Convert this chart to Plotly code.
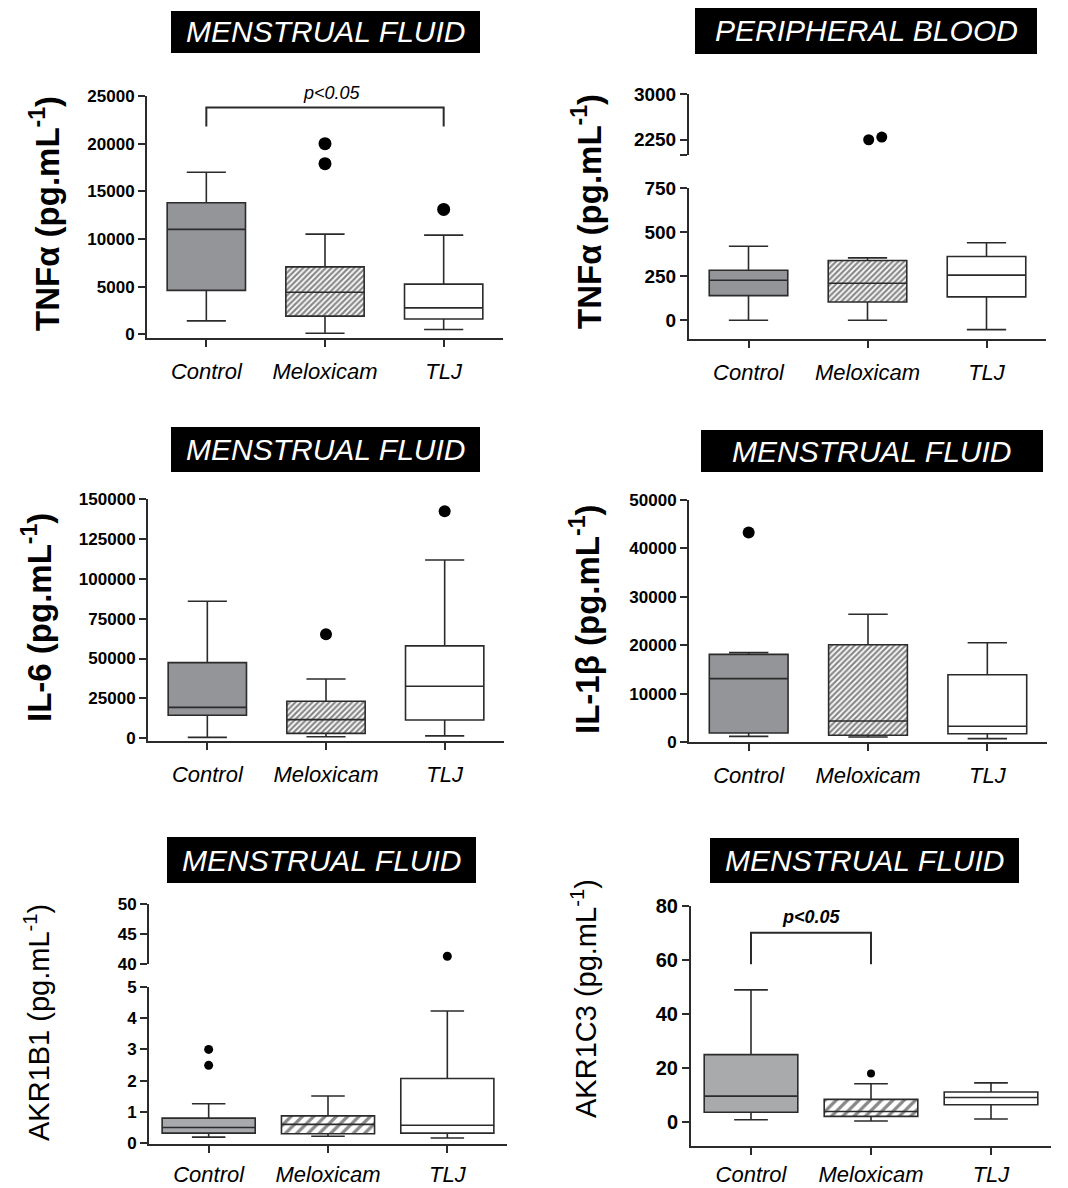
import plotly.graph_objects as go

W, H = 1068, 1188
groups = ["Control", "Meloxicam", "TLJ"]

# ---------------- data ----------------
# Panel 1: TNFa, menstrual fluid
tnf_mf_low = [1400, 100, 500]
tnf_mf_q1 = [4600, 1900, 1600]
tnf_mf_med = [11000, 4400, 2760]
tnf_mf_q3 = [13800, 7070, 5250]
tnf_mf_high = [17000, 10500, 10400]
tnf_mf_out_grp = [1, 1, 2]
tnf_mf_out_val = [20000, 17900, 13100]

# Panel 2: TNFa, peripheral blood
tnf_pb_low = [0, 0, -53]
tnf_pb_q1 = [140, 104, 133]
tnf_pb_med = [227, 210, 256]
tnf_pb_q3 = [284, 339, 362]
tnf_pb_high = [420, 354, 440]
tnf_pb_out_grp = [1, 1]
tnf_pb_out_val = [2250, 2294]
tnf_pb_out_dodge = [0.01, 0.12]

# Panel 3: IL-6, menstrual fluid
il6_low = [600, 1000, 1500]
il6_q1 = [14400, 3100, 11500]
il6_med = [19400, 11700, 32600]
il6_q3 = [47400, 23200, 57900]
il6_high = [85900, 37200, 111800]
il6_out_grp = [1, 2]
il6_out_val = [65200, 142300]

# Panel 4: IL-1b, menstrual fluid
il1b_low = [1170, 1030, 690]
il1b_q1 = [1860, 1380, 1720]
il1b_med = [13100, 4340, 3240]
il1b_q3 = [18100, 20100, 13900]
il1b_high = [18500, 26400, 20500]
il1b_out_grp = [0]
il1b_out_val = [43300]

# Panel 5: AKR1B1, menstrual fluid
akr1b1_low = [0.19, 0.22, 0.16]
akr1b1_q1 = [0.32, 0.30, 0.32]
akr1b1_med = [0.50, 0.60, 0.57]
akr1b1_q3 = [0.80, 0.87, 2.07]
akr1b1_high = [1.26, 1.51, 4.23]
akr1b1_out_grp = [0, 0, 2]
akr1b1_out_val = [3.0, 2.49, 41.3]

# Panel 6: AKR1C3, menstrual fluid
akr1c3_low = [0.74, 0.25, 1.0]
akr1c3_q1 = [3.5, 2.0, 6.3]
akr1c3_med = [9.5, 3.8, 9.0]
akr1c3_q3 = [24.9, 8.3, 11.0]
akr1c3_high = [48.9, 14.1, 14.4]
akr1c3_out_grp = [1]
akr1c3_out_val = [17.9]

# significance brackets: (group a, group b, leg bottom, bracket top, label y)
sig_tnf = [0, 2, 21800, 23800, 25300]
sig_akr1c3 = [0, 1, 58.4, 70.1, 75.8]

# ---------------- styling ----------------
FONT = "Liberation Sans"
INK = "#2b2b2b"

fig = go.Figure()


def xdom(a, b):
    return [a / W, b / W]


def ydom(top, bottom):
    return [1 - bottom / H, 1 - top / H]


panels = [
    dict(x="x", y="y", xd=(147, 503), yd=(96, 338), yr=[-400, 25000],
         yt=[0, 5000, 10000, 15000, 20000, 25000], tfs=17,
         data=(tnf_mf_low, tnf_mf_q1, tnf_mf_med, tnf_mf_q3, tnf_mf_high),
         outg=tnf_mf_out_grp, outv=tnf_mf_out_val, outd=None, ms=13,
         bw=0.66, ww=0.5, hs=4, sol=0.55, gray="#939598", so=6),
    dict(x="x2", y="y2", xd=(689, 1046), yd=(188, 339), yr=[-106, 750],
         yt=[0, 250, 500, 750], tfs=19,
         up=dict(y="y7", yd=(94, 155), yr=[2000, 3000], yt=[2000, 2250, 3000],
                 ytt=[" ", "2250", "3000"]),
         data=(tnf_pb_low, tnf_pb_q1, tnf_pb_med, tnf_pb_q3, tnf_pb_high),
         outg=tnf_pb_out_grp, outv=tnf_pb_out_val, outd=tnf_pb_out_dodge, ms=11,
         bw=0.66, ww=0.5, hs=4, sol=0.55, gray="#939598", so=6),
    dict(x="x3", y="y3", xd=(148, 504), yd=(499, 741), yr=[-1700, 150000],
         yt=[0, 25000, 50000, 75000, 100000, 125000, 150000], tfs=17,
         data=(il6_low, il6_q1, il6_med, il6_q3, il6_high),
         outg=il6_out_grp, outv=il6_out_val, outd=None, ms=12,
         bw=0.66, ww=0.5, hs=4, sol=0.55, gray="#939598", so=6),
    dict(x="x4", y="y4", xd=(689, 1047), yd=(500, 742), yr=[0, 50000],
         yt=[0, 10000, 20000, 30000, 40000, 50000], tfs=17,
         data=(il1b_low, il1b_q1, il1b_med, il1b_q3, il1b_high),
         outg=il1b_out_grp, outv=il1b_out_val, outd=None, ms=12,
         bw=0.66, ww=0.5, hs=4, sol=0.55, gray="#939598", so=6),
    dict(x="x5", y="y5", xd=(149, 507), yd=(987, 1144), yr=[-0.03, 5],
         yt=[0, 1, 2, 3, 4, 5], tfs=17,
         up=dict(y="y8", yd=(904, 964), yr=[40, 50], yt=[40, 45, 50],
                 ytt=["40", "45", "50"]),
         data=(akr1b1_low, akr1b1_q1, akr1b1_med, akr1b1_q3, akr1b1_high),
         outg=akr1b1_out_grp, outv=akr1b1_out_val, outd=None, ms=9,
         bw=0.78, ww=0.36, hs=8, sol=0.4, gray="#a7a9ac", so=3),
    dict(x="x6", y="y6", xd=(691, 1051), yd=(906, 1146), yr=[-9, 80],
         yt=[0, 20, 40, 60, 80], tfs=20,
         data=(akr1c3_low, akr1c3_q1, akr1c3_med, akr1c3_q3, akr1c3_high),
         outg=akr1c3_out_grp, outv=akr1c3_out_val, outd=None, ms=8,
         bw=0.78, ww=0.36, hs=8, sol=0.4, gray="#a9aaac", so=1),
]

layout_axes = {}


def axname(a):
    return "xaxis" + a[1:] if a.startswith("x") else "yaxis" + a[1:]


def paper_y(p, v):
    top, bottom = p["yd"]
    lo, hi = p["yr"]
    px = bottom - (v - lo) / (hi - lo) * (bottom - top)
    return 1 - px / H


def paper_x(p, v):
    left, right = p["xd"]
    px = left + (v + 0.5) / 3 * (right - left)
    return px / W


for p in panels:
    low, q1, med, q3, high = p["data"]
    fills = [p["gray"], "rgba(0,0,0,0)", "white"]
    # hatch underlay for Meloxicam
    fig.add_trace(go.Bar(
        x=[1], y=[q3[1] - q1[1]], base=[q1[1]], width=p["bw"],
        marker=dict(color="white", line=dict(width=0),
                    pattern=dict(shape="/", fgcolor="#111111", bgcolor="white",
                                 size=p["hs"], solidity=p["sol"])),
        xaxis=p["x"], yaxis=p["y"], showlegend=False, hoverinfo="skip"))
    for i in range(3):
        fig.add_trace(go.Box(
            x=[i], q1=[q1[i]], median=[med[i]], q3=[q3[i]],
            lowerfence=[low[i]], upperfence=[high[i]],
            width=p["bw"], whiskerwidth=p["ww"], fillcolor=fills[i],
            line=dict(color=INK, width=1.6), boxpoints=False,
            xaxis=p["x"], yaxis=p["y"], showlegend=False, hoverinfo="skip"))
    # outliers
    up = p.get("up")
    ox_lo, oy_lo, ox_up, oy_up = [], [], [], []
    for k, (g, v) in enumerate(zip(p["outg"], p["outv"])):
        dx = p["outd"][k] if p["outd"] else 0
        if up and v >= up["yr"][0]:
            ox_up.append(g + dx); oy_up.append(v)
        else:
            ox_lo.append(g + dx); oy_lo.append(v)
    if ox_lo:
        fig.add_trace(go.Scatter(x=ox_lo, y=oy_lo, mode="markers",
                                 marker=dict(color="black", size=p["ms"]),
                                 xaxis=p["x"], yaxis=p["y"], showlegend=False,
                                 cliponaxis=False, hoverinfo="skip"))
    if ox_up:
        fig.add_trace(go.Scatter(x=ox_up, y=oy_up, mode="markers",
                                 marker=dict(color="black", size=p["ms"]),
                                 xaxis=p["x"], yaxis=up["y"], showlegend=False,
                                 cliponaxis=False, hoverinfo="skip"))

    layout_axes[axname(p["x"])] = dict(
        domain=xdom(*p["xd"]), range=[-0.5, 2.5], anchor=p["y"],
        tickvals=[0, 1, 2], ticktext=groups, ticks="outside", ticklen=7,
        tickwidth=2, tickcolor=INK, showline=True, linewidth=2, linecolor=INK,
        showgrid=False, zeroline=False, ticklabelstandoff=p["so"],
        automargin=False,
        tickfont=dict(family=FONT, size=22, color="black", style="italic"))
    layout_axes[axname(p["y"])] = dict(
        domain=ydom(*p["yd"]), range=p["yr"], anchor=p["x"],
        tickvals=p["yt"], tickformat="d", ticks="outside", ticklen=7,
        tickwidth=2, tickcolor=INK, showline=True, linewidth=2, linecolor=INK,
        showgrid=False, zeroline=False, automargin=False,
        tickfont=dict(family=FONT, size=p["tfs"], color="black", weight="bold"))
    if up:
        layout_axes[axname(up["y"])] = dict(
            domain=ydom(*up["yd"]), range=up["yr"], anchor=p["x"],
            tickvals=up["yt"], ticktext=up["ytt"], ticks="outside", ticklen=7,
            tickwidth=2, tickcolor=INK, showline=True, linewidth=2,
            linecolor=INK, showgrid=False, zeroline=False, automargin=False,
            tickfont=dict(family=FONT, size=p["tfs"], color="black",
                          weight="bold"))

# significance brackets
for sig, pi, bold, dx in [(sig_tnf, 0, False, 0.06), (sig_akr1c3, 5, True, 0.0)]:
    p = panels[pi]
    a, b, lo, hi, ty = sig
    fig.add_trace(go.Scatter(x=[a, a, b, b], y=[lo, hi, hi, lo], mode="lines",
                             line=dict(color=INK, width=2), xaxis=p["x"],
                             yaxis=p["y"], showlegend=False, hoverinfo="skip",
                             cliponaxis=False))
    fig.add_annotation(x=paper_x(p, (a + b) / 2 + dx), y=paper_y(p, ty),
                       xref="paper", yref="paper", text="p<0.05",
                       showarrow=False, xanchor="center", yanchor="middle",
                       font=dict(family=FONT, size=18, color="black",
                                 style="italic",
                                 weight="bold" if bold else "normal"))

# title boxes
titles = [
    ("MENSTRUAL FLUID", 171, 480, 11, 53),
    ("PERIPHERAL BLOOD", 695, 1037, 8, 54),
    ("MENSTRUAL FLUID", 171, 480, 427, 472),
    ("MENSTRUAL FLUID", 701, 1043, 430, 472),
    ("MENSTRUAL FLUID", 167, 476, 837, 883),
    ("MENSTRUAL FLUID", 710, 1019, 838, 883),
]
shapes = []
for t, x0, x1, y0, y1 in titles:
    shapes.append(dict(type="rect", xref="paper", yref="paper",
                       x0=x0 / W, x1=x1 / W, y0=1 - y1 / H, y1=1 - y0 / H,
                       fillcolor="black", line=dict(width=0)))
    fig.add_annotation(x=(x0 + x1) / 2 / W, y=1 - (y0 + y1) / 2 / H,
                       xref="paper", yref="paper", text=t, showarrow=False,
                       xanchor="center", yanchor="middle",
                       font=dict(family=FONT, size=30, color="white",
                                 style="italic"))

# y-axis titles
ytitles = [
    ("TNFα (pg.mL<sup>-1</sup>)", 45, 214, "bold"),
    ("TNFα (pg.mL<sup>-1</sup>)", 587, 212, "bold"),
    ("IL-6 (pg.mL<sup>-1</sup>)", 37, 618, "bold"),
    ("IL-1β (pg.mL<sup>-1</sup>)", 585, 619, "bold"),
    ("AKR1B1 (pg.mL<sup>-1</sup>)", 37, 1023, "normal"),
    ("AKR1C3 (pg.mL<sup>-1</sup>)", 584, 999, "normal"),
]
for t, x, y, wt in ytitles:
    fig.add_annotation(x=x / W, y=1 - y / H, xref="paper", yref="paper",
                       text=t, showarrow=False, textangle=-90,
                       xanchor="center", yanchor="middle",
                       font=dict(family=FONT, size=33 if wt == "bold" else 29,
                                 color="black", weight=wt))

fig.update_layout(
    width=W, height=H, autosize=False,
    margin=dict(l=0, r=0, t=0, b=0, pad=0, autoexpand=False),
    paper_bgcolor="white", plot_bgcolor="white",
    font=dict(family=FONT, color="black"),
    showlegend=False, barmode="overlay", boxmode="overlay",
    shapes=shapes, **layout_axes)

fig.write_html("out.html", config={"displayModeBar": False},
               post_script="document.body.style.margin='0';document.body.style.overflow='hidden';")
